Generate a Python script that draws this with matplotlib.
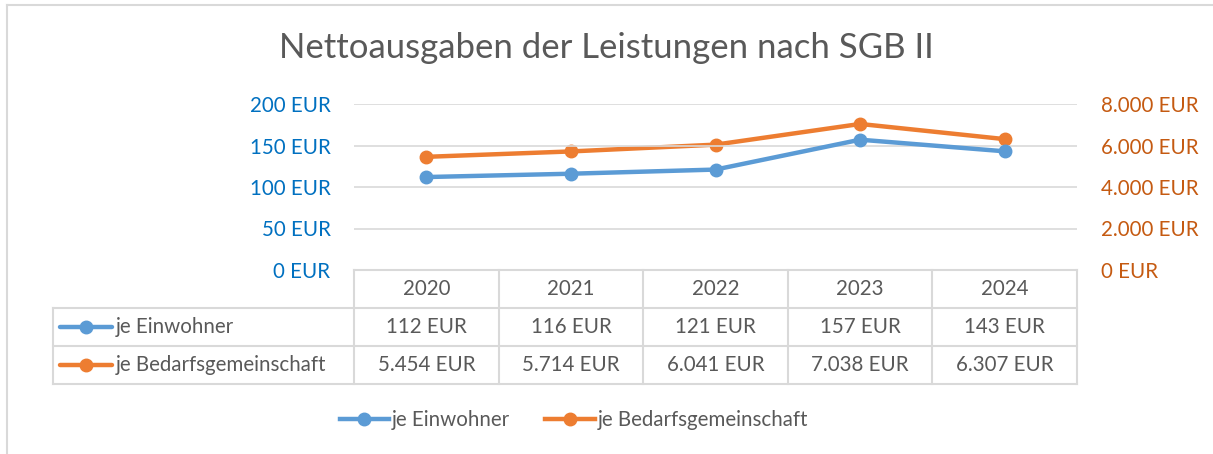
import matplotlib.pyplot as plt
from matplotlib.lines import Line2D

years = ["2020", "2021", "2022", "2023", "2024"]
je_einwohner = [112, 116, 121, 157, 143]
je_bg = [5454, 5714, 6041, 7038, 6307]
einw_labels = ["112 EUR", "116 EUR", "121 EUR", "157 EUR", "143 EUR"]
bg_labels = ["5.454 EUR", "5.714 EUR", "6.041 EUR", "7.038 EUR", "6.307 EUR"]
left_ticks = [0, 50, 100, 150, 200]
right_ticks = [0, 2000, 4000, 6000, 8000]

BLUE = "#5B9BD5"
ORANGE = "#ED7D31"
GRID = "#D9D9D9"
TXT = "#595959"
FS = 14.8

plt.rcParams['font.family'] = ['Lato', 'DejaVu Sans']

W, H = 1213, 454
fig = plt.figure(figsize=(W / 100, H / 100), dpi=100)


def fx(px):
    return px / W


def fy(py):
    return 1 - py / H


# plot area in pixels
L, R, T, B = 354, 1077, 104, 270
ax = fig.add_axes([fx(L), fy(B), fx(R - L), (B - T) / H])
ax2 = ax.twinx()

x = list(range(len(years)))
ax.set_xlim(-0.5, len(years) - 0.5)
ax.set_ylim(0, 200)
ax2.set_ylim(0, 8000)

ax.set_yticks(left_ticks)
ax.set_yticklabels([f"{v} EUR" for v in left_ticks])
ax2.set_yticks(right_ticks)
ax2.set_yticklabels([f"{v:,} EUR".replace(",", ".") for v in right_ticks])
ax.set_xticks([])

for a in (ax, ax2):
    for s in a.spines.values():
        s.set_visible(False)
ax.tick_params(axis='y', length=0, pad=17, labelsize=FS, labelcolor="#0070C0")
ax2.tick_params(axis='y', length=0, pad=17, labelsize=FS, labelcolor="#C55A11")

ax.grid(axis='y', color=GRID, linewidth=1.2)
ax.set_axisbelow(True)

ax.plot(x, je_einwohner, color=BLUE, linewidth=3.2, marker='o', markersize=9,
        solid_capstyle='round', zorder=3, clip_on=False)
ax2.plot(x, je_bg, color=ORANGE, linewidth=3.2, marker='o', markersize=9,
         solid_capstyle='round', zorder=3, clip_on=False)
ax.set_zorder(ax2.get_zorder() + 1)
ax.patch.set_visible(False)

fig.text(0.5, fy(48), "Nettoausgaben der Leistungen nach SGB II", ha='center',
         va='center', fontsize=25, color=TXT)

# data table
rows = [270, 308, 346, 384]
col_edges = [L + (R - L) * i / len(years) for i in range(len(years) + 1)]
table_left = 53


def hline(x0, x1, y):
    fig.add_artist(Line2D([fx(x0), fx(x1)], [fy(y), fy(y)], color=GRID, lw=1.5))


def vline(xp, y0, y1):
    fig.add_artist(Line2D([fx(xp), fx(xp)], [fy(y0), fy(y1)], color=GRID, lw=1.5))


hline(L, R, rows[0])
for y in rows[1:]:
    hline(table_left, R, y)
for xp in col_edges:
    vline(xp, rows[0], rows[3])
vline(table_left, rows[1], rows[3])

for i, yr in enumerate(years):
    cx = (col_edges[i] + col_edges[i + 1]) / 2
    fig.text(fx(cx), fy((rows[0] + rows[1]) / 2), yr, ha='center', va='center',
             fontsize=FS, color=TXT)
    fig.text(fx(cx), fy((rows[1] + rows[2]) / 2), einw_labels[i], ha='center',
             va='center', fontsize=FS, color=TXT)
    fig.text(fx(cx), fy((rows[2] + rows[3]) / 2), bg_labels[i], ha='center',
             va='center', fontsize=FS, color=TXT)

for (r0, r1), col, name in [((rows[1], rows[2]), BLUE, "je Einwohner"),
                            ((rows[2], rows[3]), ORANGE, "je Bedarfsgemeinschaft")]:
    ym = (r0 + r1) / 2
    fig.add_artist(Line2D([fx(60), fx(112)], [fy(ym), fy(ym)], color=col, lw=3.2,
                          solid_capstyle='round'))
    fig.add_artist(Line2D([fx(86)], [fy(ym)], color=col, marker='o', markersize=9))
    fig.text(fx(116), fy(ym), name, ha='left', va='center', fontsize=FS, color=TXT)

# legend
handles = [Line2D([], [], color=BLUE, lw=3.2, marker='o', markersize=9),
           Line2D([], [], color=ORANGE, lw=3.2, marker='o', markersize=9)]
leg = fig.legend(handles, ["je Einwohner", "je Bedarfsgemeinschaft"], loc='center',
                 bbox_to_anchor=(fx(574), fy(420)), ncol=2, frameon=False,
                 fontsize=FS, handlelength=2.4, handletextpad=0.15,
                 columnspacing=1.7)
for t in leg.get_texts():
    t.set_color(TXT)

# chart frame (left and top edges)
fig.add_artist(Line2D([fx(7), fx(7)], [fy(5), 0], color=GRID, lw=1.5))
fig.add_artist(Line2D([fx(7), 1], [fy(5), fy(5)], color=GRID, lw=1.5))

fig.savefig("out.png", dpi=100)
